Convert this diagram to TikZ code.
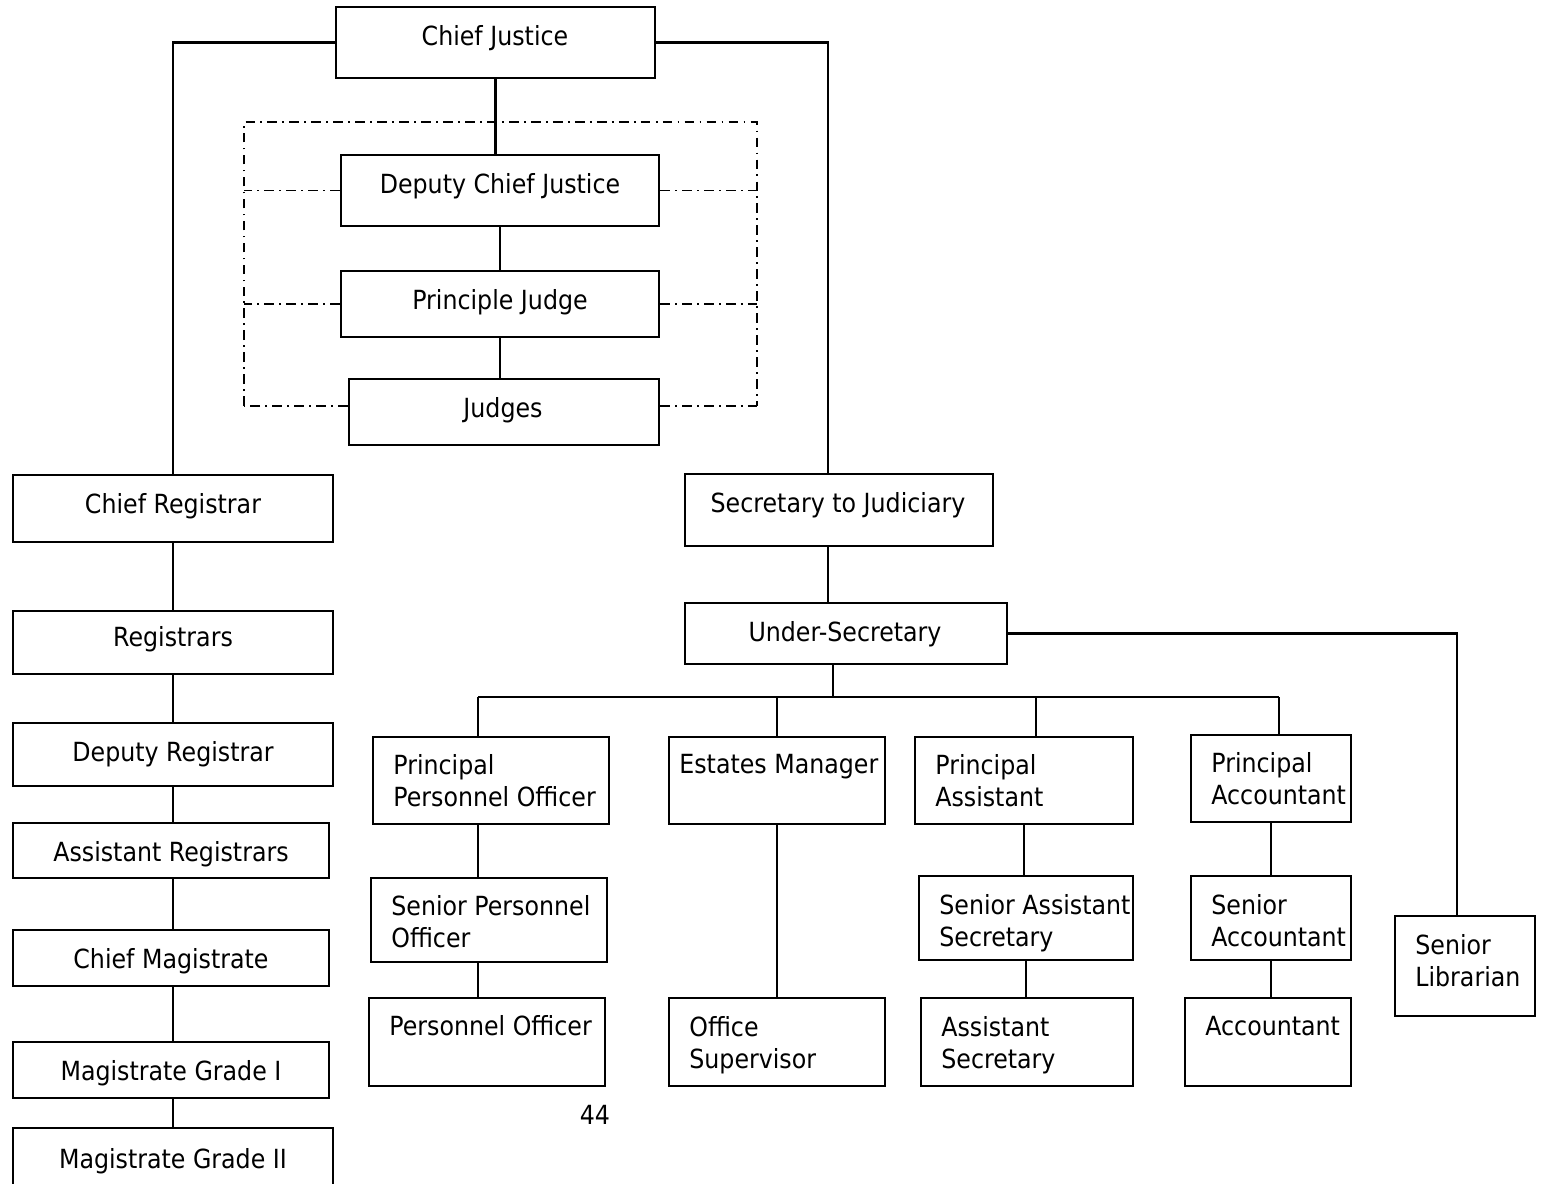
\documentclass[tikz,border=0pt]{standalone}
\usepackage{fontspec}
\setmainfont{DejaVu Sans}
\newfontfamily\tah[FakeStretch=0.9]{DejaVu Sans}
\usetikzlibrary{fit}
\newcommand\bx[5]{\node[box,fit={(#2,#3) (#4,#5)}] (#1) {};}
\begin{document}
\begin{tikzpicture}[x=0.02cm,y=-0.02cm,
  box/.style={draw,line width=1.3pt,inner sep=0pt},
  ln/.style={line width=1.3pt},
  dd/.style={line width=0.9pt,dash pattern=on 5.5pt off 3pt on 1pt off 3pt},
  t/.style={font=\tah\fontsize{15}{18.1}\selectfont,inner sep=0pt},
  tl/.style={t,align=left,anchor=north west},
  tc/.style={t,anchor=base},
  v/.style={tc}]
\useasboundingbox (0,0) rectangle (1543,1184);
% boxes
\bx{cj}{336}{7}{655}{78}
\bx{dcj}{341}{155}{659}{226}
\bx{pj}{341}{271}{659}{337}
\bx{jd}{349}{379}{659}{445}
\bx{cr}{13}{475}{333}{542}
\bx{rg}{13}{611}{333}{674}
\bx{dr}{13}{723}{333}{786}
\bx{ar}{13}{823}{329}{878}
\bx{cm}{13}{930}{329}{986}
\bx{mone}{13}{1042}{329}{1098}
\bx{mtwo}{13}{1128}{333}{1200}
\bx{sj}{685}{474}{993}{546}
\bx{us}{685}{603}{1007}{664}
\bx{ppo}{373}{737}{609}{824}
\bx{em}{669}{737}{885}{824}
\bx{pa}{915}{737}{1133}{824}
\bx{pac}{1191}{735}{1351}{822}
\bx{spo}{371}{878}{607}{962}
\bx{po}{369}{998}{605}{1086}
\bx{os}{669}{998}{885}{1086}
\bx{sas}{919}{876}{1133}{960}
\bx{as}{921}{998}{1133}{1086}
\bx{sa}{1191}{876}{1351}{960}
\bx{acc}{1185}{998}{1351}{1086}
\bx{sl}{1395}{916}{1535}{1016}
% texts
\node[tc] (cjt) at (495,45) {Chief Justice};
\node[tc] (dcjt) at (500,193) {Deputy Chief Justice};
\node[tc] (pjt) at (500,309) {Principle Judge};
\node[tc] (jdt) at (503,417) {Judges};
\node[tc] (sjt) at (838,512) {Secretary to Judiciary};
\node[tc] (ust) at (845,641) {Under-Secretary};
\node[tc] (pg) at (595,1124) {44};
\node[v] (crt) at (173,513) {Chief Registrar};
\node[v] (rgt) at (173,646) {Registrars};
\node[v] (drt) at (173,761) {Deputy Registrar};
\node[v] (art) at (171,861) {Assistant Registrars};
\node[v] (cmt) at (171,968) {Chief Magistrate};
\node[v] (monet) at (171,1080) {Magistrate Grade I};
\node[v] (mtwot) at (173,1168) {Magistrate Grade II};
\node[tl] (ppot) at (393,754) {Principal\\Personnel Officer};
\node[tl] (emt) at (679,754) {Estates Manager};
\node[tl] (pat) at (935,754) {Principal\\Assistant};
\node[tl] (pact) at (1211,752) {Principal\\Accountant};
\node[tl] (spot) at (391,895) {Senior Personnel\\Officer};
\node[tl] (pot) at (389,1015) {Personnel Officer};
\node[tl] (ost) at (689,1016) {Office\\Supervisor};
\node[tl] (sast) at (939,894) {Senior Assistant\\Secretary};
\node[tl] (ast) at (941,1016) {Assistant\\Secretary};
\node[tl] (sat) at (1211,894) {Senior\\Accountant};
\node[tl] (acct) at (1205,1016) {Accountant};
\node[tl] (slt) at (1415,934) {Senior\\Librarian};
% coordinates
\coordinate (fTL) at (244,122);
\coordinate (fBR) at (757,406);
\coordinate (busL) at (478,697);
\coordinate (busR) at (1279,697);
\coordinate (busPA) at (1036,697);
\coordinate (sjx) at (828,0);
\coordinate (usx) at (833,0);
\coordinate (slx) at (1457,0);
% judiciary column
\draw[ln] (cj.south) -- (cj.south |- dcj.north);
\draw[ln] (dcj.south) -- (dcj.south |- pj.north);
\draw[ln] (pj.south) -- (pj.south |- jd.north);
\draw[dd] (fTL |- fBR) -- (fTL) -| (fBR);
\draw[dd] (dcj.west) -- (dcj.west -| fTL);
\draw[dd] (dcj.east) -- (dcj.east -| fBR);
\draw[dd] (pj.west) -- (pj.west -| fTL);
\draw[dd] (pj.east) -- (pj.east -| fBR);
\draw[dd] (jd.west |- fBR) -- (fTL |- fBR);
\draw[dd] (jd.east |- fBR) -- (fBR);
% left column
\draw[ln] (cj.west) -| (cr.north);
\draw[ln] (cr.south) -- (cr.south |- rg.north);
\draw[ln] (rg.south -| cr.south) -- (dr.north -| cr.south);
\draw[ln] (dr.south -| cr.south) -- (ar.north -| cr.south);
\draw[ln] (ar.south -| cr.south) -- (cm.north -| cr.south);
\draw[ln] (cm.south -| cr.south) -- (mone.north -| cr.south);
\draw[ln] (mone.south -| cr.south) -- (mtwo.north -| cr.south);
% right side
\draw[ln] (cj.east) -| (sj.north -| sjx);
\draw[ln] (sj.south -| sjx) -- (us.north -| sjx);
\draw[ln] (us.east) -| (sl.north -| slx);
\draw[ln] (us.south -| usx) -- (busL -| usx);
\draw[ln] (busL) -- (busR);
\draw[ln] (busL) -- (busL |- ppo.north);
\draw[ln] (em.north |- busL) -- (em.north);
\draw[ln] (busPA) -- (busPA |- pa.north);
\draw[ln] (busR) -- (busR |- pac.north);
\draw[ln] (ppo.south -| busL) -- (spo.north -| busL);
\draw[ln] (spo.south -| busL) -- (po.north -| busL);
\draw[ln] (em.south) -- (os.north);
\draw[ln] (pa.south) -- (pa.south |- sas.north);
\draw[ln] (sas.south) -- (sas.south |- as.north);
\draw[ln] (pac.south) -- (pac.south |- sa.north);
\draw[ln] (sa.south) -- (sa.south |- acc.north);
\end{tikzpicture}
\end{document}
